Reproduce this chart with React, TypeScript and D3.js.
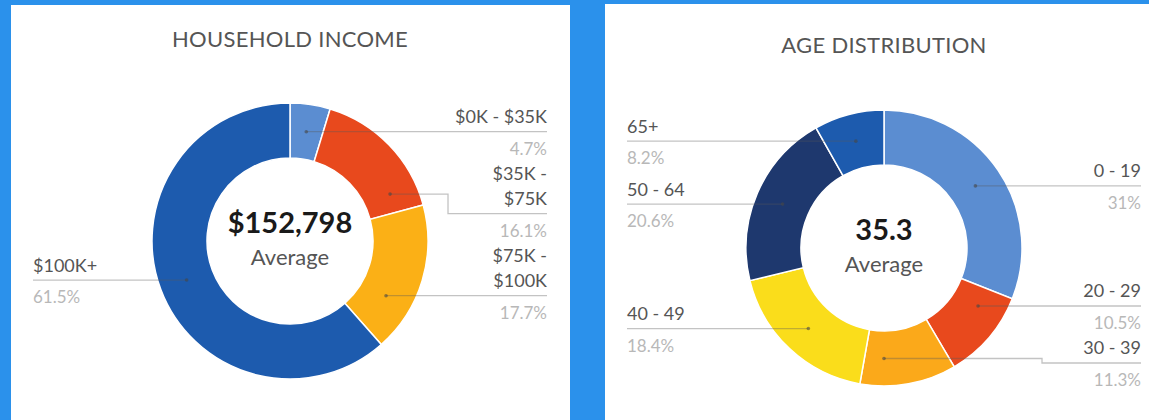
import React from "react";
import * as d3 from "d3";

// ---------- data ----------
const incomeCategories = ["$0K - $35K", "$35K - $75K", "$75K - $100K", "$100K+"];
const incomeShares = [4.7, 16.1, 17.7, 61.5];
const incomeColors = ["#5B8DD1", "#E8491D", "#FBB016", "#1D5BAE"];
const incomeAverage = "$152,798";
const incomeTitle = "HOUSEHOLD INCOME";

const ageCategories = ["0 - 19", "20 - 29", "30 - 39", "40 - 49", "50 - 64", "65+"];
const ageShares = [31, 10.5, 11.3, 18.4, 20.6, 8.2];
const ageColors = ["#5B8DD1", "#E8491D", "#FBA91A", "#FADD1B", "#1E386E", "#1D5BAE"];
const ageAverage = "35.3";
const ageTitle = "AGE DISTRIBUTION";

const averageLabel = "Average";

// ---------- layout ----------
const W = 1149;
const H = 420;
const FONT = "Lato, 'DejaVu Sans', sans-serif";
const R_OUT = 138;
const R_IN = 83;
const R_MID = (R_OUT + R_IN) / 2;
const LINE_H = 25;
const ABOVE = 15;
const BELOW = 17;
const GAP = 25;
const ANGLE_MARGIN = (10 * Math.PI) / 180;

type Item = {
  lines: string[];
  pct: string;
  side: "left" | "right";
  start: number;
  end: number;
  dotX: number;
  dotY: number;
  lineY: number;
};

function wrapLabel(s: string): string[] {
  if (s.length > 10 && s.includes(" - ")) {
    const [a, b] = s.split(" - ");
    return [a + " -", b];
  }
  return [s];
}

function layoutSide(items: Item[], cy: number) {
  items.sort((a, b) => a.dotY - b.dotY);
  let prevBottom = -Infinity;
  for (const it of items) {
    const top = ABOVE + (it.lines.length - 1) * LINE_H;
    it.lineY = Math.max(it.dotY, prevBottom + GAP + top);
    prevBottom = it.lineY + BELOW;
  }
  const maxLine = cy + 115;
  let nextTop = Infinity;
  for (let i = items.length - 1; i >= 0; i--) {
    const it = items[i];
    const top = ABOVE + (it.lines.length - 1) * LINE_H;
    it.lineY = Math.min(it.lineY, maxLine, nextTop - GAP - BELOW);
    nextTop = it.lineY - top;
  }
}

// slide the anchor dot along the mid-radius circle toward its label line
function placeDot(it: Item, cx: number, cy: number) {
  const c = Math.max(-1, Math.min(1, (cy - it.lineY) / R_MID));
  let theta = Math.acos(c);
  if (it.side === "left") theta = 2 * Math.PI - theta;
  const lo = it.start + ANGLE_MARGIN;
  const hi = it.end - ANGLE_MARGIN;
  if (lo < hi) theta = Math.max(lo, Math.min(hi, theta));
  else theta = (it.start + it.end) / 2;
  it.dotX = cx + R_MID * Math.sin(theta);
  it.dotY = cy - R_MID * Math.cos(theta);
}

type DonutProps = {
  cx: number;
  cy: number;
  title: string;
  titleY: number;
  categories: string[];
  shares: number[];
  colors: string[];
  average: string;
};

function Donut({ cx, cy, title, titleY, categories, shares, colors, average }: DonutProps) {
  const pie = d3.pie<number>().sort(null).value((d) => d);
  const arcs = pie(shares);
  const arcGen = d3.arc<d3.PieArcDatum<number>>().innerRadius(R_IN).outerRadius(R_OUT);
  const color = d3.scaleOrdinal<string, string>().domain(categories).range(colors);

  const items: Item[] = arcs.map((a, i) => {
    const mid = (a.startAngle + a.endAngle) / 2;
    const dotX = cx + R_MID * Math.sin(mid);
    const dotY = cy - R_MID * Math.cos(mid);
    return {
      lines: wrapLabel(categories[i]),
      pct: `${shares[i]}%`,
      side: Math.sin(mid) >= 0 ? "right" : "left",
      start: a.startAngle,
      end: a.endAngle,
      dotX,
      dotY,
      lineY: dotY,
    };
  });
  layoutSide(items.filter((d) => d.side === "right"), cy);
  layoutSide(items.filter((d) => d.side === "left"), cy);
  items.forEach((it) => placeDot(it, cx, cy));

  return (
    <g>
      <text
        x={cx}
        y={titleY}
        textAnchor="middle"
        fontFamily={FONT}
        fontSize={22}
        fill="#555"
        letterSpacing={0.3}
      >
        {title}
      </text>
      <g transform={`translate(${cx},${cy})`}>
        {arcs.map((a, i) => (
          <path key={i} d={arcGen(a) || ""} fill={color(categories[i])} stroke="#fff" strokeWidth={1.5} />
        ))}
      </g>
      {items.map((it, i) => {
        const right = it.side === "right";
        const edge = right ? cx + 257 : cx - 257;
        const elbow = right ? cx + 158 : cx - 158;
        const path = d3.path();
        path.moveTo(it.dotX, it.dotY);
        if (Math.abs(it.lineY - it.dotY) > 0.5) {
          path.lineTo(elbow, it.dotY);
          path.lineTo(elbow, it.lineY);
        }
        path.lineTo(edge, it.lineY);
        const anchor = right ? "end" : "start";
        return (
          <g key={i}>
            <path d={path.toString()} fill="none" stroke="rgba(90,90,90,0.36)" strokeWidth={1.3} />
            <circle cx={it.dotX} cy={it.dotY} r={1.8} fill="rgba(70,70,70,0.6)" />
            {it.lines.map((ln, k) => (
              <text
                key={k}
                x={edge}
                y={it.lineY - ABOVE - (it.lines.length - 1 - k) * LINE_H}
                dy="0.36em"
                textAnchor={anchor}
                fontFamily={FONT}
                fontSize={18}
                fill="#555"
              >
                {ln}
              </text>
            ))}
            <text
              x={edge}
              y={it.lineY + BELOW}
              dy="0.36em"
              textAnchor={anchor}
              fontFamily={FONT}
              fontSize={17}
              fill="#b8b8b8"
            >
              {it.pct}
            </text>
          </g>
        );
      })}
      <text
        x={cx}
        y={cy - 8}
        textAnchor="middle"
        fontFamily={FONT}
        fontWeight="bold"
        fontSize={29}
        fill="#1a1a1a"
      >
        {average}
      </text>
      <text x={cx} y={cy + 24} textAnchor="middle" fontFamily={FONT} fontSize={22} fill="#555">
        {averageLabel}
      </text>
    </g>
  );
}

export default function App() {
  return (
    <svg
      width={W}
      height={H}
      viewBox={`0 0 ${W} ${H}`}
      style={{ position: "fixed", left: 0, top: 0, display: "block" }}
    >
      <rect x={0} y={0} width={W} height={H} fill="#2B91EB" />
      <rect x={11} y={5} width={559} height={H} fill="#fff" />
      <rect x={605} y={4} width={W - 605} height={H} fill="#fff" />
      <Donut
        cx={290}
        cy={241}
        title={incomeTitle}
        titleY={47}
        categories={incomeCategories}
        shares={incomeShares}
        colors={incomeColors}
        average={incomeAverage}
      />
      <Donut
        cx={884}
        cy={248}
        title={ageTitle}
        titleY={53}
        categories={ageCategories}
        shares={ageShares}
        colors={ageColors}
        average={ageAverage}
      />
    </svg>
  );
}
